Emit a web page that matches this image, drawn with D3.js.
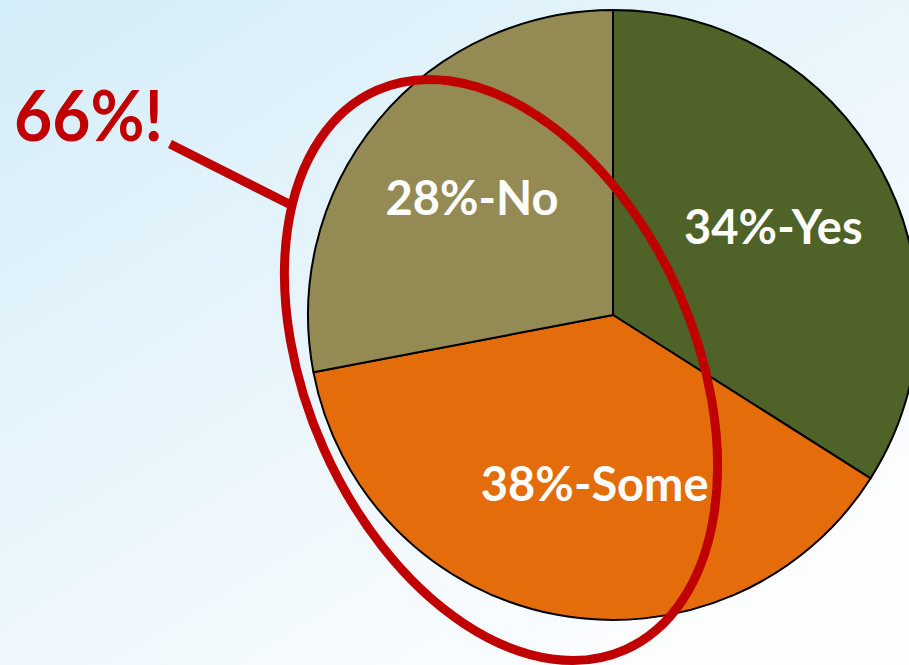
<!DOCTYPE html>
<html>
<head>
<meta charset="utf-8">
<script src="https://cdn.jsdelivr.net/npm/d3@7"></script>
<style>
  html, body { margin: 0; padding: 0; overflow: hidden; }
  svg { display: block; }
</style>
</head>
<body>
<div id="chart"></div>
<script>
// chart data
const categories = ['Yes', 'Some', 'No'];
const values = [34, 38, 28];
const colors = ['#4F6228', '#E46C0A', '#948A54'];
const calloutText = '66%!';

const width = 909, height = 665;
const cx = 613, cy = 315, radius = 305;

const svg = d3.select('#chart').append('svg')
    .attr('width', width)
    .attr('height', height);

// background gradient
const defs = svg.append('defs');
const grad = defs.append('linearGradient')
    .attr('id', 'bg')
    .attr('x1', '0').attr('y1', '0')
    .attr('x2', '0.75').attr('y2', '0.9');
grad.append('stop').attr('offset', '0').attr('stop-color', '#d3edf8');
grad.append('stop').attr('offset', '0.45').attr('stop-color', '#e6f4fb');
grad.append('stop').attr('offset', '1').attr('stop-color', '#fbfdff');

svg.append('rect')
    .attr('width', width)
    .attr('height', height)
    .attr('fill', 'url(#bg)');

const data = categories.map((c, i) => ({ name: c, value: values[i], color: colors[i] }));

const pie = d3.pie()
    .sort(null)
    .value(d => d.value);

const arc = d3.arc()
    .innerRadius(0)
    .outerRadius(radius);

const labelArc = d3.arc()
    .innerRadius(radius * 0.6)
    .outerRadius(radius * 0.6);

const g = svg.append('g')
    .attr('transform', 'translate(' + cx + ',' + cy + ')');

const arcs = pie(data);

g.selectAll('path.slice')
    .data(arcs)
    .enter()
    .append('path')
    .attr('class', 'slice')
    .attr('d', arc)
    .attr('fill', d => d.data.color)
    .attr('stroke', '#000')
    .attr('stroke-width', 2)
    .attr('stroke-linejoin', 'round');

g.selectAll('text.label')
    .data(arcs)
    .enter()
    .append('text')
    .attr('class', 'label')
    .attr('x', d => labelArc.centroid(d)[0] + (d.data.name === 'Some' ? 16 : 0))
    .attr('y', d => labelArc.centroid(d)[1] + (d.data.name === 'Some' ? -11 : 0))
    .attr('dy', '0.36em')
    .attr('text-anchor', 'middle')
    .attr('fill', '#fff')
    .style('font-family', 'Lato, "Open Sans", sans-serif')
    .style('font-weight', 'bold')
    .style('font-size', '47px')
    .text(d => d.value + '%-' + d.data.name);

// callout ellipse
svg.append('ellipse')
    .attr('cx', 501)
    .attr('cy', 370)
    .attr('rx', 194)
    .attr('ry', 306)
    .attr('transform', 'rotate(-24,501,370)')
    .attr('fill', 'none')
    .attr('stroke', '#C00000')
    .attr('stroke-width', 9);

// pointer line
svg.append('line')
    .attr('x1', 170).attr('y1', 144)
    .attr('x2', 289).attr('y2', 204)
    .attr('stroke', '#C00000')
    .attr('stroke-width', 9);

svg.append('text')
    .attr('x', 14)
    .attr('y', 141)
    .attr('fill', '#C00000')
    .attr('textLength', 149)
    .attr('lengthAdjust', 'spacingAndGlyphs')
    .style('font-family', 'Lato, "Open Sans", sans-serif')
    .style('font-weight', 'bold')
    .style('font-size', '70px')
    .text(calloutText);
</script>
</body>
</html>
